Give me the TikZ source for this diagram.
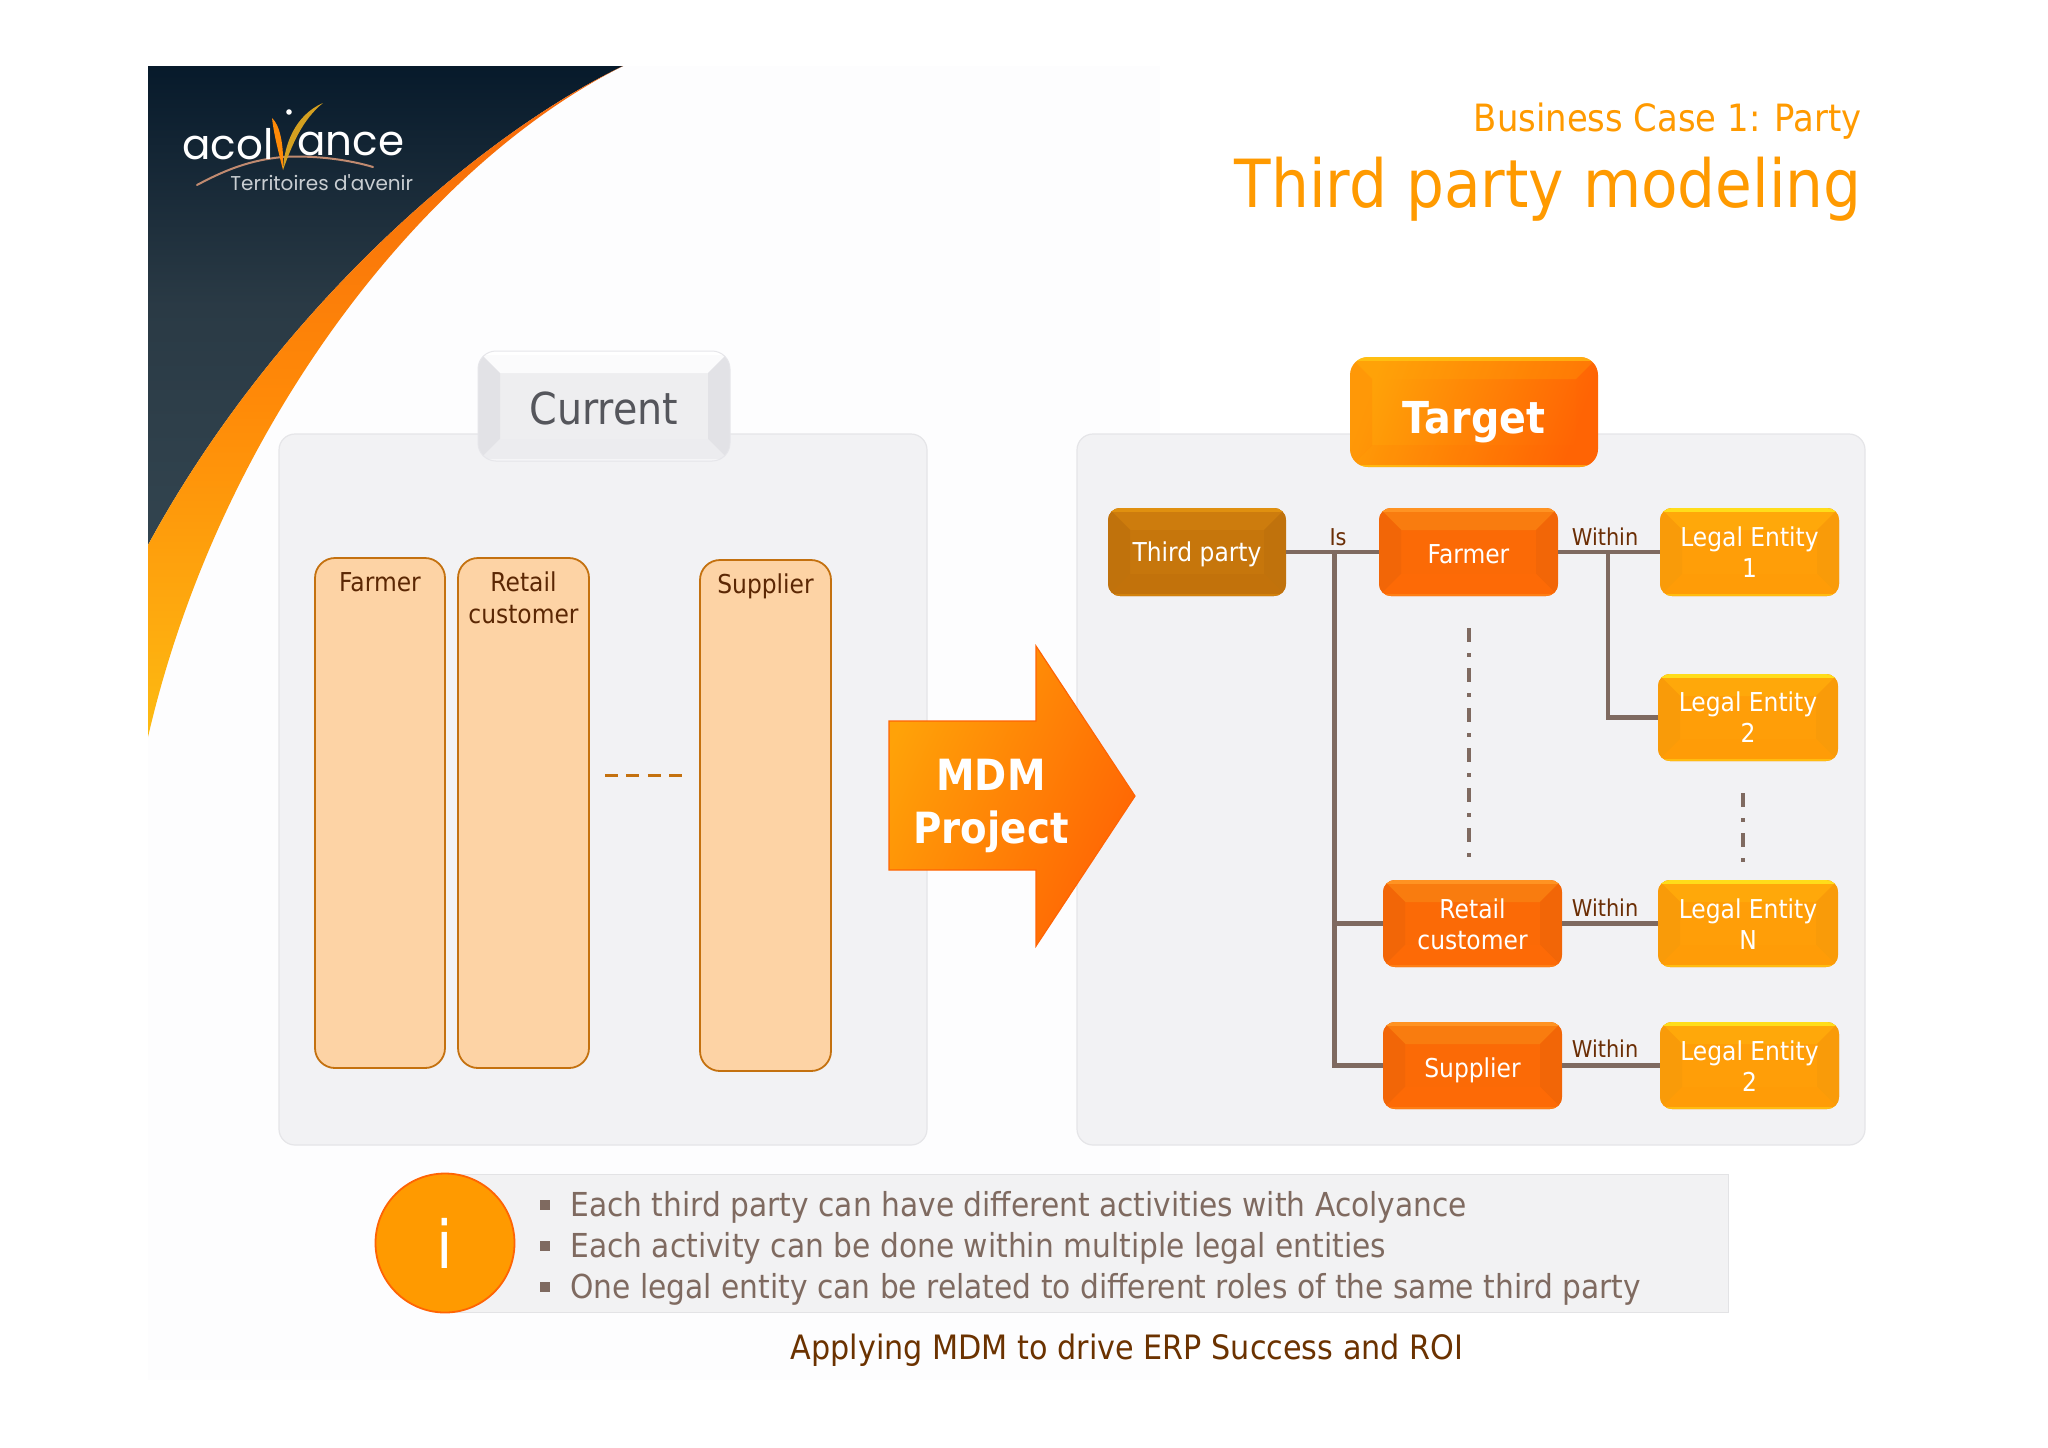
\documentclass[tikz,border=0pt]{standalone}
\usepackage{fontspec}
\setmainfont[FakeStretch=0.9]{DejaVu Sans}
\newfontfamily\logofont{Poppins}
\usetikzlibrary{calc}
\definecolor{orgA}{HTML}{FF9A00}
\definecolor{panelfill}{HTML}{F2F2F4}
\definecolor{panelline}{HTML}{E5E5E8}
\definecolor{connc}{HTML}{7F6A60}
\definecolor{lblc}{HTML}{6B2E05}
\definecolor{colfill}{HTML}{FDD3A5}
\definecolor{colline}{HTML}{C4710F}
\definecolor{HTML_tp}{HTML}{C6760C}\definecolor{HTML_tpt}{HTML}{CD7C0D}\definecolor{HTML_tpb}{HTML}{C2720B}\definecolor{HTML_tpl}{HTML}{C0720C}\definecolor{HTML_tps}{HTML}{E0900F}
\definecolor{HTML_fm}{HTML}{FB6A06}\definecolor{HTML_fmt}{HTML}{F97C0F}\definecolor{HTML_fmb}{HTML}{FD6A06}\definecolor{HTML_fml}{HTML}{F26607}\definecolor{HTML_fms}{HTML}{FF9322}
\definecolor{HTML_le}{HTML}{FF9E08}\definecolor{HTML_let}{HTML}{FFA80A}\definecolor{HTML_leb}{HTML}{FF9C07}\definecolor{HTML_lel}{HTML}{F99B09}\definecolor{HTML_les}{HTML}{FFDD1A}
\definecolor{HTML_bgf}{HTML}{FDFDFE}
\definecolor{HTML_dk1}{HTML}{071A2B}\definecolor{HTML_dk3}{HTML}{2A3A45}\definecolor{HTML_dk2}{HTML}{32444F}
\definecolor{HTML_o1}{HTML}{F5660A}\definecolor{HTML_o2}{HTML}{FF8A08}\definecolor{HTML_o3}{HTML}{FDBB12}
\definecolor{HTML_sw}{HTML}{C08A70}\definecolor{HTML_yy}{HTML}{D4A020}\definecolor{HTML_lg}{HTML}{C9CED2}
\definecolor{HTML_cur}{HTML}{EEEEF0}\definecolor{HTML_curt}{HTML}{55565C}\definecolor{HTML_curb}{HTML}{ECECEF}\definecolor{HTML_curl}{HTML}{E2E2E6}\definecolor{HTML_curtop}{HTML}{FBFBFC}\definecolor{HTML_curd}{HTML}{E6E6EA}
\definecolor{HTML_t1}{HTML}{FFA208}\definecolor{HTML_t2}{HTML}{FF6404}
\definecolor{HTML_bar}{HTML}{F2F2F3}\definecolor{HTML_barl}{HTML}{E3E3E5}\definecolor{HTML_foot}{HTML}{6B3200}
\tikzset{
  panel/.style={fill=panelfill,draw=panelline,line width=0.6pt,rounded corners=8pt},
  column/.style={fill=colfill,draw=colline,line width=0.9pt,rounded corners=10pt},
  coltext/.style={text=lblc!85!black,font=\fontsize{13}{15.6}\selectfont,align=center,inner sep=0pt},
  conn/.style={draw=connc,line width=2.1pt},
  dashdot/.style={draw=connc,line width=1.7pt,dash pattern=on 7pt off 5.5pt on 2pt off 5.5pt},
  rel/.style={text=lblc,font=\fontsize{11.6}{14}\selectfont,inner sep=0pt},
  bev/.style n args={5}{rounded corners=6pt,inner sep=0pt,align=center,text=white,
    font=\fontsize{13}{15.6}\selectfont,fill=#1,bevels={#2}{#3}{#4}{#5}},
  bevels/.style n args={4}{path picture={
    \def\ppb{path picture bounding box}
    \begin{scope}[sharp corners]
    \fill[#1] (\ppb.north west)--(\ppb.north east)--([shift={(-11pt,-11pt)}]\ppb.north east)--([shift={(11pt,-11pt)}]\ppb.north west)--cycle;
    \fill[#3] (\ppb.north west)--(\ppb.south west)--([shift={(11pt,11pt)}]\ppb.south west)--([shift={(11pt,-11pt)}]\ppb.north west)--cycle;
    \fill[#3] (\ppb.north east)--(\ppb.south east)--([shift={(-11pt,11pt)}]\ppb.south east)--([shift={(-11pt,-11pt)}]\ppb.north east)--cycle;
    \fill[#2] (\ppb.south west)--(\ppb.south east)--([shift={(-11pt,11pt)}]\ppb.south east)--([shift={(11pt,11pt)}]\ppb.south west)--cycle;
    \fill[#4] (\ppb.north west) rectangle ([yshift=-2.2pt]\ppb.north east);
    \fill[#4,opacity=.5] (\ppb.south west) rectangle ([yshift=1.1pt]\ppb.south east);
    \end{scope}
  }},
  tp/.style={bev={HTML_tp}{HTML_tpt}{HTML_tpb}{HTML_tpl}{HTML_tps}},
  fm/.style={bev={HTML_fm}{HTML_fmt}{HTML_fmb}{HTML_fml}{HTML_fms}},
  le/.style={bev={HTML_le}{HTML_let}{HTML_leb}{HTML_lel}{HTML_les}},
  big/.style={rounded corners=9pt,inner sep=0pt,font=\fontsize{22}{26}\bfseries\selectfont},
}
\newcommand{\bevnode}[6]{\node[#1,minimum width={(#4-#2)*0.5pt},minimum height={(#5-#3)*0.5pt}] (#6) at ({(#2+#4)/2},{(#3+#5)/2})}
\newcommand{\lowtext}[2]{\raisebox{-#1}[\height][\depth]{\begin{tabular}{@{}c@{}}#2\end{tabular}}}
\begin{document}
\begin{tikzpicture}[x=0.5pt,y=-0.5pt]
\useasboundingbox (0,0) rectangle (2048,1447);
\fill[white] (0,0) rectangle (2048,1447);
\fill[HTML_bgf] (148,66) rectangle (1160,1380);
% corner swoosh
\shade[top color=HTML_dk1,bottom color=HTML_dk2,middle color=HTML_dk3]
  (148,66) -- (623,66) .. controls (470,140) and (270,320) .. (148,545) -- cycle;
\shade[top color=HTML_o1,bottom color=HTML_o3,middle color=HTML_o2]
  (623,66) .. controls (470,140) and (270,320) .. (148,545)
  -- (148,737) .. controls (220,425) and (425,165) .. (623,66) -- cycle;
% logo
\draw[HTML_sw,line width=1pt,line cap=round] (197,185) .. controls (225,170) and (250,160) .. (283,157) .. controls (315,155) and (350,160) .. (373,167);
\fill[HTML_o2] (272,118) .. controls (280,125) and (284,145) .. (283,170) .. controls (278,150) and (274,135) .. (272,118) -- cycle;
\fill[HTML_yy] (283,170) .. controls (284,145) and (295,115) .. (323,103) .. controls (302,120) and (292,145) .. (283,170) -- cycle;
\fill[white] (289,112) circle (2.8);
\node[inner sep=0pt,text=white,anchor=east] (logoa) at (274,144) {\logofont\fontsize{21}{21}\selectfont acol};
\node[inner sep=0pt,text=white,anchor=west] (logob) at (297,144) {\logofont\fontsize{21}{21}\selectfont ance};
\node[inner sep=0pt,text=HTML_lg,anchor=west] (logoc) at (230,183) {\logofont\fontsize{10}{12}\selectfont Territoires d'avenir};
% titles
\node[anchor=east,inner sep=0pt,text=orgA,font=\fontsize{18.8}{22}\selectfont] (sub) at (1862,121) {Business Case 1: Party};
\node[anchor=east,inner sep=0pt,text=orgA,font=\fontsize{33.2}{40}\selectfont] (title) at (1862,189) {Third party modeling};
% panels
\draw[panel] (279,434) rectangle (927,1145);
\draw[panel] (1077,434) rectangle (1865,1145);
% current
\bevnode{big,fill=HTML_cur,draw=HTML_curd,line width=.5pt,text=HTML_curt,font=\fontsize{22}{26}\selectfont,bevels={HTML_curtop}{HTML_curb}{HTML_curl}{white}}{478}{351}{730}{461}{current} {\lowtext{3.9pt}{Current}};
\bevnode{big,text=white,shading=axis,left color=HTML_t1,right color=HTML_t2,shading angle=70,bevels={HTML_t1,opacity=.3}{HTML_t2,opacity=.1}{HTML_t2,opacity=.15}{HTML_les,opacity=.5}}{1350}{357}{1598}{467}{target} {\lowtext{5.5pt}{Target}};
% columns
\bevnode{column}{315}{558}{445}{1068}{c1} {};
\bevnode{column}{458}{558}{589}{1068}{c2} {};
\bevnode{column}{700}{560}{831}{1071}{c3} {};
\node[coltext,anchor=north] (c1t) at ([yshift=-7.3pt]c1.north) {Farmer};
\node[coltext,anchor=north] (c2t) at ([yshift=-7.3pt]c2.north) {Retail\\customer};
\node[coltext,anchor=north] (c3t) at ([yshift=-7.3pt]c3.north) {Supplier};
\coordinate (da) at (605,775); \coordinate (db) at (682,775);
\draw[colline,line width=1.5pt,dash pattern=on 6.5pt off 4.2pt] (da) -- (db);
% arrow
\shade[draw=HTML_t2,line width=.6pt,shading=axis,left color=HTML_t1,right color=HTML_t2,shading angle=65]
  (889,721) -- (1036,721) -- (1036,646) -- (1135,796) -- (1036,946) -- (1036,870) -- (889,870) -- cycle;
\node[inner sep=0pt,text=white,align=center,font=\fontsize{21.5}{26.5}\bfseries\selectfont] (mdm) at (991,806) {MDM\\Project};
% target boxes
\bevnode{tp}{1108}{508}{1286}{596}{third} {\lowtext{1.5pt}{Third party}};
\bevnode{fm}{1379}{508}{1558}{596}{farmer} {\lowtext{2.4pt}{Farmer}};
\bevnode{le}{1660}{508}{1839}{596}{le1} {\lowtext{1.8pt}{Legal Entity\\1}};
\bevnode{le}{1658}{674}{1838}{761}{le2} {\lowtext{1.8pt}{Legal Entity\\2}};
\bevnode{fm}{1383}{880}{1562}{967}{retail} {\lowtext{2.2pt}{Retail\\customer}};
\bevnode{le}{1658}{880}{1838}{967}{len} {\lowtext{2.2pt}{Legal Entity\\N}};
\bevnode{fm}{1383}{1022}{1562}{1109}{supplier} {\lowtext{3pt}{Supplier}};
\bevnode{le}{1660}{1022}{1839}{1109}{lex} {\lowtext{2.2pt}{Legal Entity\\2}};
% connectors
\coordinate (j1) at (1334.5,552); \coordinate (j2) at (1608,552);
\draw[conn] (third.east) -- (farmer.west);
\draw[conn] (farmer.east) -- (le1.west);
\draw[conn] (retail.east) -- (len.west);
\draw[conn] (supplier.east) -- (lex.west);
\draw[conn] (j1) |- (retail.west);
\draw[conn] (j1) |- (supplier.west);
\draw[conn] (j2) |- (le2.west);
\coordinate (d1a) at (1469,628); \coordinate (d1b) at (1469,858);
\coordinate (d2a) at (1743,793); \coordinate (d2b) at (1743,864);
\draw[dashdot] (d1a) -- (d1b);
\draw[dashdot] (d2a) -- (d2b);
\node[rel] (is) at (1338,537) {Is};
\node[rel] (w1) at (1605,537) {Within};
\node[rel] (w2) at (1605,908) {Within};
\node[rel] (w3) at (1605,1049) {Within};
% info bar
\fill[HTML_bar,draw=HTML_barl,line width=.5pt] (445,1174) rectangle (1728,1312);
\node[circle,fill=orgA,draw=HTML_t2,line width=.9pt,minimum size=69.5pt,inner sep=0pt,text=white,font=\fontsize{33}{36}\selectfont] (info) at (445,1243) {i};
\foreach \n/\yy/\txt in {b1/1207/Each third party can have different activities with Acolyance,
  b2/1248/Each activity can be done within multiple legal entities,
  b3/1289/One legal entity can be related to different roles of the same third party}{
  \fill[connc] (540,\yy-7) rectangle (550,\yy+3);
  \node[anchor=west,inner sep=0pt,text=connc,font=\fontsize{16.5}{20}\selectfont] (\n) at (570,\yy) {\txt};
}
\node[inner sep=0pt,text=HTML_foot,font=\fontsize{16.8}{20}\selectfont] (foot) at (1127,1350) {Applying MDM to drive ERP Success and ROI};
\end{tikzpicture}
\end{document}
